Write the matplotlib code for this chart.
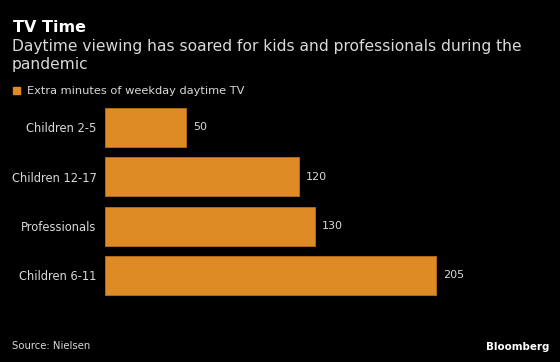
import matplotlib
matplotlib.use("Agg")
import matplotlib.pyplot as plt
from matplotlib.patches import Rectangle

categories = ["Children 2-5", "Children 12-17", "Professionals", "Children 6-11"]
values = [50, 120, 130, 205]
series_name = "Extra minutes of weekday daytime TV"

BAR = "#DE8B26"
TXT = "#D9D9D9"
W, H = 560, 362

plt.rcParams["font.family"] = ["DejaVu Sans"]

fig = plt.figure(figsize=(W / 100, H / 100), dpi=100, facecolor="black")

# axes placed in pixel units
l, r, t, b = 105, 540, 102.85, 300
ax = fig.add_axes([l / W, 1 - b / H, (r - l) / W, (b - t) / H])
ax.set_facecolor("black")

pos = list(range(len(categories)))
ax.barh(pos, values, height=0.79, color=BAR, edgecolor="#B86E1A", linewidth=0.6)
ax.set_xlim(0, (r - l) / 1.615)
ax.set_ylim(len(categories) - 0.5, -0.5)

for p, v in zip(pos, values):
    ax.text(v + 4.3, p, str(v), color=TXT, fontsize=8, va="center", ha="left")

ax.set_yticks(pos)
ax.set_yticklabels(categories, color=TXT, fontsize=8.3)
ax.tick_params(axis="y", length=0, pad=6)
ax.set_xticks([])
for s in ax.spines.values():
    s.set_visible(False)

fig.text(13 / W, 1 - 27 / H, "TV Time", color="white", fontsize=11.5,
         fontweight="bold", va="center", ha="left")
fig.text(12 / W, 1 - 46 / H, "Daytime viewing has soared for kids and professionals during the",
         color=TXT, fontsize=11.2, va="center", ha="left")
fig.text(12 / W, 1 - 65 / H, "pandemic", color=TXT, fontsize=11.2, va="center", ha="left")

fig.patches.append(Rectangle((13 / W, 1 - 94 / H), 7 / W, 7 / H,
                             transform=fig.transFigure, color=BAR))
fig.text(27 / W, 1 - 90.5 / H, series_name, color=TXT, fontsize=8.2,
         va="center", ha="left")

fig.text(12 / W, 1 - 346 / H, "Source: Nielsen", color=TXT, fontsize=7.3,
         va="center", ha="left")
fig.text(549 / W, 1 - 347 / H, "Bloomberg", color="white", fontsize=7.4,
         fontweight="bold", va="center", ha="right")

fig.savefig("out.png", dpi=100, facecolor="black")
